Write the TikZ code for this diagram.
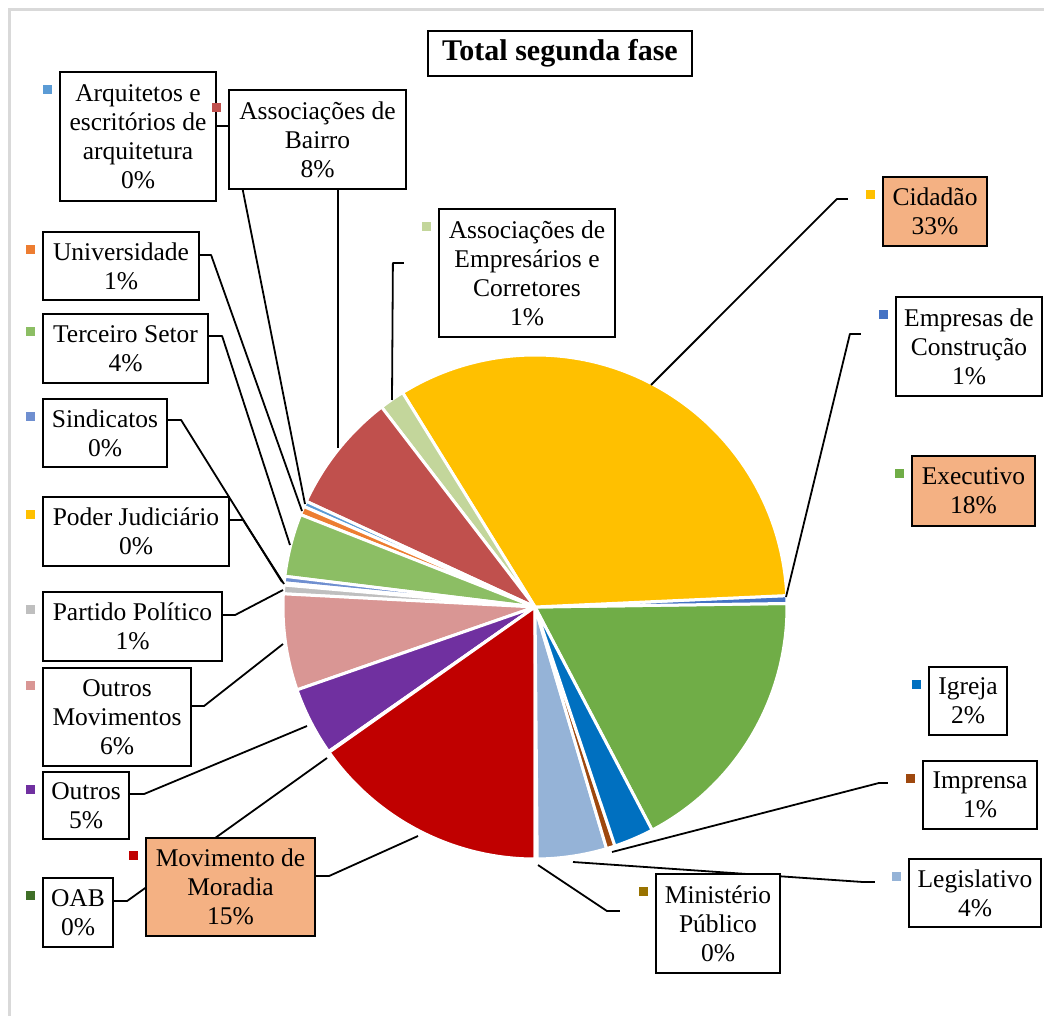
\documentclass[tikz,border=0pt]{standalone}
\usepackage{fontspec}
\setmainfont{Liberation Serif}
\usepackage{tikz}
\usetikzlibrary{positioning}
\definecolor{destaque}{HTML}{F4B183}
\definecolor{moldura}{HTML}{D9D9D9}
\definecolor{corarq}{HTML}{5B9BD5}
\definecolor{corbairro}{HTML}{C0504D}
\definecolor{coremp}{HTML}{C3D69B}
\definecolor{corcid}{HTML}{FFC000}
\definecolor{corconstr}{HTML}{4472C4}
\definecolor{corexe}{HTML}{70AD47}
\definecolor{origreja}{HTML}{0070C0}
\definecolor{corimp}{HTML}{9E480E}
\definecolor{corlegis}{HTML}{95B3D7}
\definecolor{cormin}{HTML}{997300}
\definecolor{cormoradia}{HTML}{C00000}
\definecolor{coroab}{HTML}{3F6F28}
\definecolor{coroutros}{HTML}{7030A0}
\definecolor{coroutmov}{HTML}{D99694}
\definecolor{corpartido}{HTML}{BFBFBF}
\definecolor{corpoder}{HTML}{FFC000}
\definecolor{corsind}{HTML}{6F8FD0}
\definecolor{corterc}{HTML}{8CBE64}
\definecolor{coruniv}{HTML}{ED7D31}
\pgfdeclarelayer{fatias}
\pgfdeclarelayer{linhas}
\pgfsetlayers{fatias,linhas,main}
\tikzset{
    fasebox/.style={draw, line width=2.2pt, fill=white, align=center, inner sep=0pt},
    fasekey/.style={fill=#1, minimum size=9pt, inner sep=0pt},
    faseline/.style={line width=1.8pt, line join=round}
}
\newcommand{\legenda}[2]{\node[fasekey=#2, below left=13.5pt and 6.5pt of #1.north west] (k#1) {};}

\begin{document}
\begin{tikzpicture}[x=1pt, y=-1pt, font=\fontsize{25.5}{29}\selectfont]
    \useasboundingbox (0,0) rectangle (1044,1016);

    \begin{pgfonlayer}{fatias}
    \draw[moldura, line width=3pt] (9,1016) -- (9,10) -- (1044,10);
    \begin{scope}[shift={(535,607)}, y=1pt]
    \foreach \a/\b/\c in {-62.3/0.8/corexe, 0.8/2.6/corconstr, 2.6/121.7/corcid,
        121.7/127.5/coremp, 127.5/155.2/corbairro, 155.2/156.5/corarq,
        156.5/158.5/coruniv, 158.5/173.0/corterc, 173.0/174.5/corsind,
        174.5/175.0/corpoder, 175.0/177.0/corpartido, 177.0/199.2/coroutmov,
        199.2/215.0/coroutros, 215.0/215.2/coroab, 215.2/270.0/cormoradia,
        270.0/270.5/cormin, 270.5/286.5/corlegis, 286.5/288.5/corimp,
        288.5/297.7/origreja}
        \filldraw[fill=\c, draw=white, line width=3pt, line join=round]
            (0,0) -- (\a:252) arc[start angle=\a, end angle=\b, radius=252] -- cycle;
    \end{scope}
    \end{pgfonlayer}

    \node[fasebox, font=\fontsize{30}{34}\selectfont\bfseries, minimum width=264pt, minimum height=45pt] (titulo) at (560,53.5) {Total segunda fase};

    \node[fasebox, minimum width=156pt, minimum height=129pt] (arq) at (138,136.5) {Arquitetos e\\escritórios de\\arquitetura\\0\%};
    \node[fasebox, minimum width=177pt, minimum height=99pt] (bairro) at (317.5,139.5) {Associações de\\Bairro\\8\%};
    \node[fasebox, minimum width=176pt, minimum height=128pt] (emp) at (527,273) {Associações de\\Empresários e\\Corretores\\1\%};
    \node[fasebox, fill=destaque, minimum width=104pt, minimum height=69pt] (cid) at (935,211.5) {Cidadão\\33\%};
    \node[fasebox, minimum width=146pt, minimum height=99pt] (constr) at (969,346.5) {Empresas de\\Construção\\1\%};
    \node[fasebox, fill=destaque, minimum width=123pt, minimum height=70pt] (exe) at (973.5,491) {Executivo\\18\%};
    \node[fasebox, minimum width=78pt, minimum height=68pt] (igreja) at (968,701) {Igreja\\2\%};
    \node[fasebox, minimum width=114pt, minimum height=68pt] (imprensa) at (980,795) {Imprensa\\1\%};
    \node[fasebox, minimum width=132pt, minimum height=68pt] (legis) at (975,893) {Legislativo\\4\%};
    \node[fasebox, minimum width=124pt, minimum height=99pt] (minpub) at (718,923.5) {Ministério\\Público\\0\%};
    \node[fasebox, fill=destaque, minimum width=169pt, minimum height=98pt] (moradia) at (230.5,887) {Movimento de\\Moradia\\15\%};
    \node[fasebox, minimum width=70pt, minimum height=69pt] (oab) at (78,912.5) {OAB\\0\%};
    \node[fasebox, minimum width=86pt, minimum height=67pt] (outros) at (86,805.5) {Outros\\5\%};
    \node[fasebox, minimum width=148pt, minimum height=98pt] (outmov) at (117,717) {Outros\\Movimentos\\6\%};
    \node[fasebox, minimum width=179pt, minimum height=69pt] (partido) at (132.5,626.5) {Partido Político\\1\%};
    \node[fasebox, minimum width=186pt, minimum height=69pt] (poder) at (136,531.5) {Poder Judiciário\\0\%};
    \node[fasebox, minimum width=124pt, minimum height=68pt] (sind) at (105,433) {Sindicatos\\0\%};
    \node[fasebox, minimum width=165pt, minimum height=69pt] (terc) at (125.5,348.5) {Terceiro Setor\\4\%};
    \node[fasebox, minimum width=156pt, minimum height=68pt] (univ) at (121,266) {Universidade\\1\%};

    \legenda{arq}{corarq}
    \legenda{bairro}{corbairro}
    \legenda{emp}{coremp}
    \legenda{cid}{corcid}
    \legenda{constr}{corconstr}
    \legenda{exe}{corexe}
    \legenda{igreja}{origreja}
    \legenda{imprensa}{corimp}
    \legenda{legis}{corlegis}
    \legenda{minpub}{cormin}
    \legenda{moradia}{cormoradia}
    \legenda{oab}{coroab}
    \legenda{outros}{coroutros}
    \legenda{outmov}{coroutmov}
    \legenda{partido}{corpartido}
    \legenda{poder}{corpoder}
    \legenda{sind}{corsind}
    \legenda{terc}{corterc}
    \legenda{univ}{coruniv}

    \coordinate (tarq) at (305,504);
    \coordinate (tbairro) at (338,448);
    \coordinate (temp) at (392,400);
    \coordinate (tcid) at (651,385);
    \coordinate (tconstr) at (786,597);
    \coordinate (timp) at (612,852);
    \coordinate (tlegis) at (573,862);
    \coordinate (tmin) at (538,865);
    \coordinate (tmoradia) at (418,836);
    \coordinate (toab) at (327,758);
    \coordinate (toutros) at (307,726);
    \coordinate (toutmov) at (283,644);
    \coordinate (tpartido) at (283,590);
    \coordinate (tpoder) at (284,584);
    \coordinate (tsind) at (282,582);
    \coordinate (tterc) at (290,545);
    \coordinate (tuniv) at (302,511);

    \coordinate (eemp) at ([shift={(-34pt,10pt)}]emp.west);
    \coordinate (ecid) at ([shift={(-34pt,12.5pt)}]cid.west);
    \coordinate (econstr) at ([shift={(-34pt,12.5pt)}]constr.west);
    \coordinate (eimp) at ([shift={(-34pt,12pt)}]imprensa.west);
    \coordinate (elegis) at ([shift={(-33pt,11pt)}]legis.west);
    \coordinate (emin) at ([shift={(-35pt,12.5pt)}]minpub.west);

    \begin{pgfonlayer}{linhas}
    \draw[faseline] ([yshift=10.5pt]arq.east) -- ++(13,0) -- (tarq);
    \draw[faseline] ([xshift=20.5pt]bairro.south) -- (tbairro);
    \draw[faseline] (eemp) -- ++(-11,0) -- (temp);
    \draw[faseline] (ecid) -- ++(-11,0) -- (tcid);
    \draw[faseline] (econstr) -- ++(-11,0) -- (tconstr);
    \draw[faseline] (eimp) -- ++(-9,0) -- (timp);
    \draw[faseline] (elegis) -- ++(-12,0) -- (tlegis);
    \draw[faseline] (emin) -- ++(-13,0) -- (tmin);
    \draw[faseline] ([yshift=11pt]moradia.east) -- ++(13,0) -- (tmoradia);
    \draw[faseline] ([yshift=11.5pt]oab.east) -- ++(13,0) -- (toab);
    \draw[faseline] ([yshift=11.5pt]outros.east) -- ++(14,0) -- (toutros);
    \draw[faseline] ([yshift=11pt]outmov.east) -- ++(12,0) -- (toutmov);
    \draw[faseline] ([yshift=11.5pt]partido.east) -- ++(12,0) -- (tpartido);
    \draw[faseline] ([yshift=11.5pt]poder.east) -- ++(13,0) -- (tpoder);
    \draw[faseline] ([yshift=13pt]sind.east) -- ++(13,0) -- (tsind);
    \draw[faseline] ([yshift=12.5pt]terc.east) -- ++(13,0) -- (tterc);
    \draw[faseline] ([yshift=11pt]univ.east) -- ++(11,0) -- (tuniv);
    \end{pgfonlayer}
\end{tikzpicture}
\end{document}
